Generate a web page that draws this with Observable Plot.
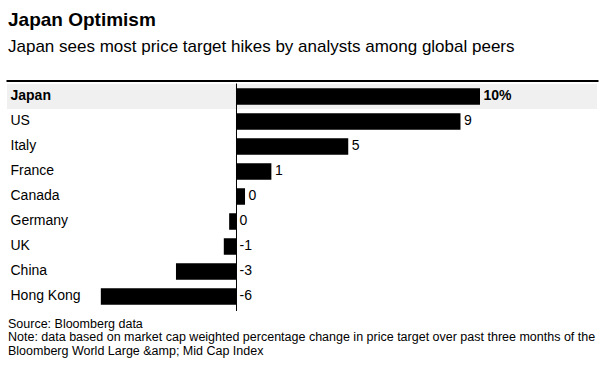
<!DOCTYPE html>
<html><head><meta charset="utf-8">
<script src="https://cdn.jsdelivr.net/npm/d3@7"></script>
<script src="https://cdn.jsdelivr.net/npm/@observablehq/plot@0.6"></script>
<style>
body{margin:0;background:#fff;font-family:"Liberation Sans",Arial,sans-serif;color:#000;}
#wrap{position:relative;width:605px;height:373px;overflow:hidden;background:#fff}
.t{position:absolute;left:8px;white-space:nowrap;color:#000}
#chart{position:absolute;left:0;top:72px}
#chart svg{display:block}
</style></head><body>
<div id="wrap">
<div class="t" id="title" style="top:9.9px;font-size:19px;line-height:19px;font-weight:bold"></div>
<div class="t" id="subtitle" style="top:37.6px;font-size:17px;line-height:17px"></div>
<div id="chart"></div>
<div class="t" id="foot" style="top:317.6px;font-size:12.5px;line-height:13.5px"></div>
</div>
<script>
const titleText = "Japan Optimism";
const subtitleText = "Japan sees most price target hikes by analysts among global peers";
const footLines = [
  "Source: Bloomberg data",
  "Note: data based on market cap weighted percentage change in price target over past three months of the",
  "Bloomberg World Large &amp; Mid Cap Index"
];

const countries = ["Japan","US","Italy","France","Canada","Germany","UK","China","Hong Kong"];
const values = [10.0, 9.2, 4.6, 1.45, 0.37, -0.28, -0.5, -2.46, -5.54];
const valueLabels = ["10%","9","5","1","0","0","-1","-3","-6"];
const highlighted = "Japan";

document.getElementById("title").textContent = titleText;
document.getElementById("subtitle").textContent = subtitleText;
const foot = document.getElementById("foot");
footLines.forEach(l => { const d = document.createElement("div"); d.textContent = l; foot.appendChild(d); });

const data = countries.map((c, i) => ({country: c, value: values[i], label: valueLabels[i]}));
const hl = data.filter(d => d.country === highlighted);
const rest = data.filter(d => d.country !== highlighted);

const chart = Plot.plot({
  width: 605,
  height: 241,
  marginTop: 9.5,
  marginBottom: 2,
  marginLeft: 7,
  marginRight: 8,
  x: {domain: [-9.385, 14.795], axis: null},
  y: {domain: countries, axis: null, padding: 0},
  style: {fontFamily: '"Liberation Sans", Arial, sans-serif', fontSize: "14px", background: "transparent", overflow: "visible", color: "#000"},
  marks: [
    Plot.cell(hl, {y: "country", fill: "#f0f0f0"}),
    Plot.frame({anchor: "top", stroke: "#000", strokeWidth: 2, dy: -1}),
    Plot.barX(data, {x: "value", y: "country", fill: "#000", insetTop: 4.25, insetBottom: 4.25}),
    Plot.ruleX([0], {stroke: "#000", strokeWidth: 1, insetTop: 2}),
    Plot.text(rest, {y: "country", text: "country", frameAnchor: "left", textAnchor: "start", dx: 3, dy: -1.5, fill: "#000"}),
    Plot.text(hl, {y: "country", text: "country", frameAnchor: "left", textAnchor: "start", dx: 3, dy: -1.5, fill: "#000", fontWeight: "bold"}),
    Plot.text(rest, {x: d => Math.max(0, d.value), y: "country", text: "label", textAnchor: "start", dx: 3, dy: -1, fill: "#000"}),
    Plot.text(hl, {x: d => Math.max(0, d.value), y: "country", text: "label", textAnchor: "start", dx: 3, dy: -1, fill: "#000", fontWeight: "bold"})
  ]
});
document.getElementById("chart").appendChild(chart);
</script>
</body></html>
